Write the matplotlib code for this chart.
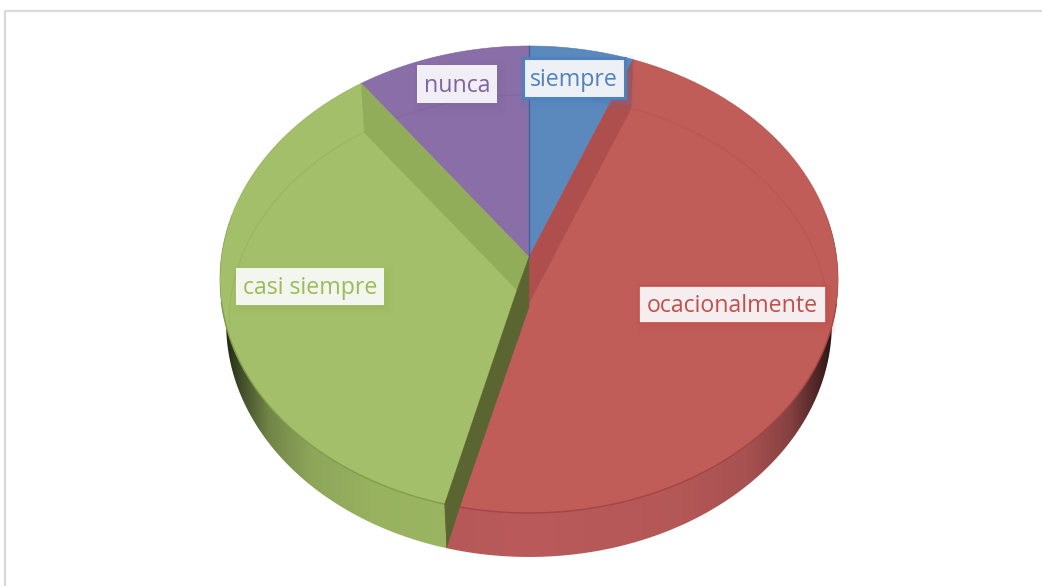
import numpy as np
import matplotlib
matplotlib.use('Agg')
import matplotlib.pyplot as plt
from matplotlib.patches import Polygon, Rectangle

# clockwise from 12 o'clock
categories = ['siempre', 'ocacionalmente', 'casi siempre', 'nunca']
values = [6, 48, 36, 10]

face_colors = ['#5B89BE', '#C05D58', '#A3BF69', '#8A6EA7']
line_colors = ['#3F6A9F', '#A04442', '#7F9C46', '#6F5590']
rim_colors = {'ocacionalmente': '#BA5A5A', 'casi siempre': '#9DB863'}
text_colors = ['#4F81BD', '#C0504D', '#9BBB59', '#8064A2']

# label boxes: left, top, right, bottom
label_boxes = [(523, 58, 625, 98), (639, 286, 826, 323), (236, 268, 384, 305), (417, 65, 497, 103)]
box_fills = ['#EDF1F6', '#F6EEEE', '#F3F6EE', '#F1EEF5']

CX, CY = 529, 257
RX, RY, K = 307.6, 231.3, 0.0964
DEPTH = 44
RIM_SCALE = 0.98
RING_SCALE = 0.97


def project(frac, scale=1.0):
    # position on the disc to pixels, with a bit of perspective
    a = 2 * np.pi * np.asarray(frac)
    u, v = scale * np.sin(a), scale * np.cos(a)
    w = 1 + K * v
    return CX + RX * u / w, CY - RY * v / w


def rim_gradient(color, x_left, x_right):
    xs = np.linspace(x_left, x_right, 400)
    t = np.abs(xs - CX) / 303
    f = np.interp(t, [0, 0.5, 0.72, 0.86, 0.95, 1], [1.0, 0.97, 0.9, 0.72, 0.42, 0.22])
    return np.outer(f, matplotlib.colors.to_rgb(color)).reshape(1, 400, 3)


fig = plt.figure(figsize=(10.42, 5.86), dpi=100)
ax = fig.add_axes([0, 0, 1, 1])

# frame
ax.plot([5, 5, 1045], [590, 11, 11], color='#DADADA', lw=1.6)

edges = np.cumsum([0] + values) / sum(values)

# side of the pie
for i, name in enumerate(categories):
    if name not in rim_colors:
        continue
    fr = np.linspace(max(edges[i], 0.22), min(edges[i + 1], 0.78), 200)
    xs, ys = project(fr)
    xb = CX + (xs - CX) * RIM_SCALE
    yb = ys + DEPTH
    pts = np.c_[np.r_[xs, xb[::-1]], np.r_[ys, yb[::-1]]]
    left, right = pts[:, 0].min(), pts[:, 0].max()
    im = ax.imshow(rim_gradient(rim_colors[name], left, right), aspect='auto',
                   extent=(left, right, 586, 0), zorder=1, interpolation='bilinear')
    clip = Polygon(pts, closed=True, transform=ax.transData, fc='none', ec='none')
    ax.add_patch(clip)
    im.set_clip_path(clip)

# top faces
for i, name in enumerate(categories):
    fr = np.linspace(edges[i], edges[i + 1], 200)
    xs, ys = project(fr)
    ax.fill(np.r_[CX, xs], np.r_[CY, ys], color=face_colors[i], lw=0.3, zorder=2)

    # outline is strong only on the front edge
    front = (fr > 0.28) & (fr < 0.72)
    if front.sum() > 1:
        ax.plot(xs[front], ys[front], color=line_colors[i], lw=1.0, alpha=0.9, zorder=3)
    ax.plot(xs, ys, color=line_colors[i], lw=0.7, alpha=0.3, zorder=3)

    # faint ring of the lower disc seen through the top
    f2 = fr[(fr < 0.268) | (fr > 0.732)]
    if len(f2) > 1:
        x2, y2 = project(f2, RING_SCALE)
        ax.plot(x2, y2 + 43, color=line_colors[i], lw=0.8, alpha=0.25, zorder=3)

# inner walls, from the slice edges
x0, y0 = project(edges[1])
x1, y1 = project(edges[3])
x2, y2 = project(edges[2])
ax.fill([x0, CX, CX, x0 - 2], [y0, CY, CY + 46, y0 + 49], color='#AE4E4D', lw=0.3, zorder=4)
ax.fill([x1, CX, CX - 12, x1 + 3], [y1, CY, CY + 33, y1 + 49], color='#92AD59', lw=0.3, zorder=4)
ax.fill([CX, CX - 12, x2, x2 + 2, x2 + 15, CX], [CY, CY + 33, y2, y2 + DEPTH, y2 + 3, CY + 50],
        color='#5A6531', lw=0.3, zorder=5)
ax.plot([CX, CX], [CY, project(0.0)[1]], color='#3E5F96', lw=0.9, zorder=5)

# data labels
for i, name in enumerate(categories):
    l, t, r, b = label_boxes[i]
    for grow, a in zip([7, 5, 3, 1], [0.05, 0.07, 0.09, 0.12]):
        ax.add_patch(Rectangle((l - grow + 3, t - grow + 4), r - l + 2 * grow, b - t + 2 * grow,
                               fc=text_colors[i], ec='none', alpha=a, zorder=6))
    lw = 2.2 if name == 'siempre' else (1.2 if name == 'ocacionalmente' else 0)
    ax.add_patch(Rectangle((l, t), r - l, b - t, fc=box_fills[i],
                           ec=text_colors[i] if lw else 'none', lw=lw, zorder=7))
    ax.text((l + r) / 2, (t + b) / 2 + 1.5, name, color=text_colors[i], fontsize=16.7,
            family='Open Sans', ha='center', va='center', zorder=8)

ax.set_xlim(0, 1042)
ax.set_ylim(586, 0)
ax.axis('off')

fig.savefig('out.png', dpi=100)
